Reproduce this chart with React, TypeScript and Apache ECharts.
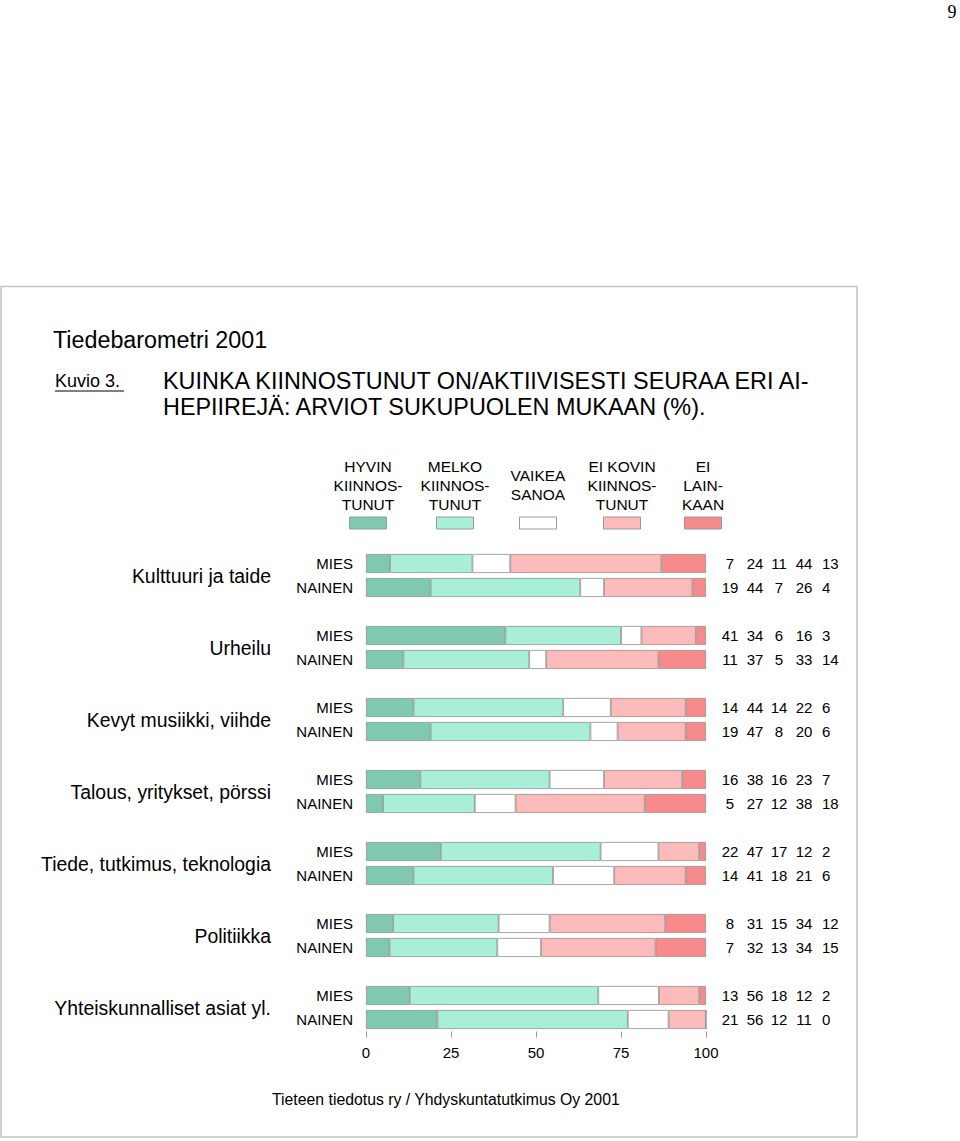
import React, { useRef, useEffect } from "react";
import * as echarts from "echarts";

const topics = [
  "Kulttuuri ja taide",
  "Urheilu",
  "Kevyt musiikki, viihde",
  "Talous, yritykset, pörssi",
  "Tiede, tutkimus, teknologia",
  "Politiikka",
  "Yhteiskunnalliset asiat yl.",
];
const genders = ["MIES", "NAINEN"];
const answers = [
  "HYVIN\nKIINNOS-\nTUNUT",
  "MELKO\nKIINNOS-\nTUNUT",
  "VAIKEA\nSANOA",
  "EI KOVIN\nKIINNOS-\nTUNUT",
  "EI\nLAIN-\nKAAN",
];
const colors = ["#80c9b1", "#a8efd9", "#ffffff", "#fcbaba", "#f78b8b"];

// per topic: hyvin, melko, vaikea, ei kovin, ei lainkaan
const mies = [
  [7, 24, 11, 44, 13],
  [41, 34, 6, 16, 3],
  [14, 44, 14, 22, 6],
  [16, 38, 16, 23, 7],
  [22, 47, 17, 12, 2],
  [8, 31, 15, 34, 12],
  [13, 56, 18, 12, 2],
];
const nainen = [
  [19, 44, 7, 26, 4],
  [11, 37, 5, 33, 14],
  [19, 47, 8, 20, 6],
  [5, 27, 12, 38, 18],
  [14, 41, 18, 21, 6],
  [7, 32, 13, 34, 15],
  [21, 56, 12, 11, 0],
];
const xTicks = [0, 25, 50, 75, 100];

const FONT = "Liberation Sans, Arial, sans-serif";

type Row = { key: string; label: string; vals: number[] | null; topic: number };
const rows: Row[] = [];
topics.forEach((t, i) => {
  if (i > 0) rows.push({ key: "gap" + i, label: "", vals: null, topic: i });
  rows.push({ key: i + "M", label: genders[0], vals: mies[i], topic: i });
  rows.push({ key: i + "N", label: genders[1], vals: nainen[i], topic: i });
});

const legendX = [368, 455, 538, 622, 703];
const numX = [730, 755, 779, 804, 822];
const numAlign = ["center", "center", "center", "center", "left"];

const txt = (id: string, text: string, x: number, y: number, size: number, align = "left", extra: any = {}) => ({
  type: "text",
  id,
  silent: true,
  style: {
    text,
    x,
    y,
    fontSize: size,
    fontFamily: FONT,
    fill: "#000",
    align,
    textAlign: align,
    verticalAlign: "middle",
    textVerticalAlign: "middle",
    ...extra,
  },
});

const App = function () {
  const chart = useRef<HTMLDivElement>(null);
  useEffect(() => {
    if (!chart.current) return;
    const myChart = echarts.init(chart.current, null, { renderer: "svg" });
    const option = {
      animation: false,
      textStyle: { fontFamily: FONT },
      grid: { left: 366, top: 551.5, width: 340, height: 480 },
      xAxis: {
        type: "value",
        min: xTicks[0],
        max: xTicks[xTicks.length - 1],
        interval: xTicks[1] - xTicks[0],
        axisLine: { show: false },
        axisTick: { show: true, length: 6, lineStyle: { color: "#999" } },
        splitLine: { show: false },
        axisLabel: { fontSize: 15, color: "#000", margin: 13 },
      },
      yAxis: {
        type: "category",
        inverse: true,
        data: rows.map((r) => r.key),
        axisLine: { show: false },
        axisTick: { show: false },
        axisLabel: {
          interval: 0,
          fontSize: 15,
          color: "#000",
          margin: 13,
          formatter: (v: string) => {
            const r = rows.find((x) => x.key === v);
            return r ? r.label : "";
          },
        },
      },
      series: answers.map((name, k) => ({
        type: "bar",
        name,
        stack: "all",
        barWidth: 19,
        silent: true,
        itemStyle: { color: colors[k], borderColor: "#909090", borderWidth: 0.8 },
        data: rows.map((r) => {
          if (!r.vals) return null;
          const sum = r.vals.reduce((a, b) => a + b, 0);
          return (r.vals[k] * 100) / sum;
        }),
      })),
    };
    myChart.setOption(option);

    const graphics: any[] = [
      {
        type: "rect",
        id: "box",
        silent: true,
        shape: { x: 1, y: 286.5, width: 856, height: 850.5 },
        style: { fill: "none", stroke: "#c4c4c4", lineWidth: 1.5 },
      },
      txt("page", "9", 952, 12, 18, "center", { fontFamily: "Liberation Serif, serif" }),
      txt("t1", "Tiedebarometri 2001", 53, 340, 23.3),
      txt("kuvio", "Kuvio 3.", 55, 381, 18),
      {
        type: "line",
        id: "kuvioLine",
        silent: true,
        shape: { x1: 55, y1: 391, x2: 124, y2: 391 },
        style: { stroke: "#000", lineWidth: 1 },
      },
      txt(
        "t2",
        "KUINKA KIINNOSTUNUT ON/AKTIIVISESTI SEURAA ERI AI-\nHEPIIREJÄ: ARVIOT SUKUPUOLEN MUKAAN (%).",
        163,
        394,
        23.4,
        "left",
        { lineHeight: 26 }
      ),
      txt("foot", "Tieteen tiedotus ry / Yhdyskuntatutkimus Oy 2001", 272, 1099, 15.8),
    ];
    answers.forEach((a, k) => {
      graphics.push(txt("lg" + k, a, legendX[k], 485, 15.5, "center", { lineHeight: 19 }));
      graphics.push({
        type: "rect",
        id: "sw" + k,
        silent: true,
        shape: { x: legendX[k] - 18.5, y: 517, width: 37, height: 12 },
        style: { fill: colors[k], stroke: "#9a9a9a", lineWidth: 1 },
      });
    });
    topics.forEach((t, i) => {
      const y1 = myChart.convertToPixel({ yAxisIndex: 0 }, i + "M") as number;
      const y2 = myChart.convertToPixel({ yAxisIndex: 0 }, i + "N") as number;
      graphics.push(txt("topic" + i, t, 271, (y1 + y2) / 2, 19.4, "right"));
    });
    rows.forEach((r) => {
      if (!r.vals) return;
      const y = myChart.convertToPixel({ yAxisIndex: 0 }, r.key) as number;
      r.vals.forEach((v, k) => {
        graphics.push(txt("n" + r.key + k, String(v), numX[k], y, 15, numAlign[k]));
      });
    });
    myChart.setOption({ graphic: graphics });

    return () => {
      myChart.dispose();
    };
  }, []);
  return (
    <div
      ref={chart}
      style={{ position: "absolute", left: 0, top: 0, width: 960, height: 1141 }}
    ></div>
  );
};
export default App;
